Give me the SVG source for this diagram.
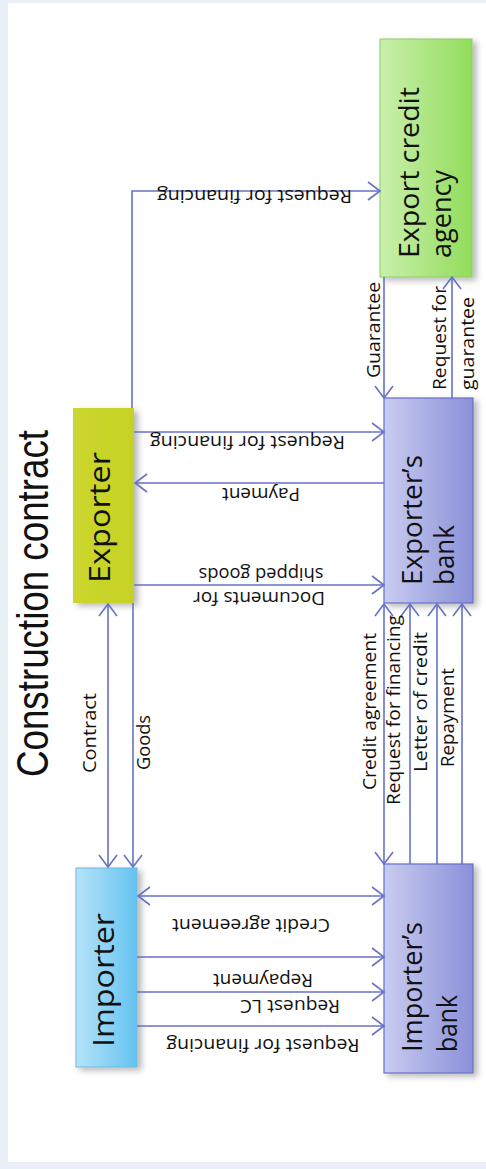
<svg xmlns="http://www.w3.org/2000/svg" width="486" height="1169" viewBox="0 0 486 1169">
<style>
.c{fill:none;stroke:#6672c6;stroke-width:1.6}
.lbl{font-family:"Open Sans","DejaVu Sans",sans-serif;font-size:18px;fill:#111;text-anchor:middle;dominant-baseline:central}
.nl{font-family:"Open Sans","DejaVu Sans",sans-serif;fill:#111;text-anchor:middle;dominant-baseline:central}
.title{font-family:"Liberation Sans",Arial,sans-serif;font-size:44px;fill:#111;text-anchor:middle;dominant-baseline:central}
</style>
<defs>
<marker id="ah" viewBox="0 0 14 20" refX="13" refY="10" markerWidth="14" markerHeight="20" markerUnits="userSpaceOnUse" orient="auto-start-reverse">
<path d="M1,1 L13,10 L1,19" fill="none" stroke="#6672c6" stroke-width="1.6"/>
</marker>
<linearGradient id="gEca" x1="0" y1="0" x2="1" y2="0"><stop offset="0" stop-color="#caf0ac"/><stop offset="1" stop-color="#92dc5c"/></linearGradient>
<linearGradient id="gExp" x1="0" y1="0" x2="1" y2="0"><stop offset="0" stop-color="#ccd62e"/><stop offset="1" stop-color="#c6d224"/></linearGradient>
<linearGradient id="gBank" x1="0" y1="0" x2="1" y2="0"><stop offset="0" stop-color="#c9ccf0"/><stop offset="1" stop-color="#8a90d8"/></linearGradient>
<linearGradient id="gImp" x1="0" y1="0" x2="1" y2="0"><stop offset="0" stop-color="#b6e3f8"/><stop offset="1" stop-color="#64c3f0"/></linearGradient>
<filter id="sh" x="-20%" y="-20%" width="150%" height="150%"><feDropShadow dx="4" dy="3" stdDeviation="3" flood-color="#000" flood-opacity="0.28"/></filter>
</defs>
<rect x="0" y="0" width="486" height="1169" fill="#e9eff7"/>
<rect x="8" y="3" width="478" height="1159" fill="#ffffff"/>
<text class="title" transform="translate(32.5,603.5) rotate(-90)" textLength="347" lengthAdjust="spacingAndGlyphs">Construction contract</text>

<g id="eca">
<rect x="380" y="39" width="92" height="238" fill="url(#gEca)" stroke="#8ccc62" stroke-width="1" filter="url(#sh)"/>
<text class="nl" font-size="28" transform="translate(408,172.5) rotate(-90)" textLength="171" lengthAdjust="spacingAndGlyphs">Export credit</text>
<text class="nl" font-size="28" transform="translate(440,214) rotate(-90)" textLength="88" lengthAdjust="spacingAndGlyphs">agency</text>
</g>
<g id="exporter">
<rect x="73" y="408" width="61" height="195" fill="url(#gExp)" filter="url(#sh)"/>
<text class="nl" font-size="30" transform="translate(98,517.5) rotate(-90)" textLength="131" lengthAdjust="spacingAndGlyphs">Exporter</text>
</g>
<g id="exporters-bank">
<rect x="384" y="398" width="89" height="205" fill="url(#gBank)" stroke="#6670c8" stroke-width="1.2" filter="url(#sh)"/>
<text class="nl" font-size="27" transform="translate(411.5,520) rotate(-90)" textLength="130" lengthAdjust="spacingAndGlyphs">Exporter’s</text>
<text class="nl" font-size="27" transform="translate(443.5,555) rotate(-90)" textLength="60" lengthAdjust="spacingAndGlyphs">bank</text>
</g>
<g id="importer">
<rect x="76" y="868" width="61" height="199" fill="url(#gImp)" stroke="#6ab8e6" stroke-width="1" filter="url(#sh)"/>
<text class="nl" font-size="30" transform="translate(102,980) rotate(-90)" textLength="134" lengthAdjust="spacingAndGlyphs">Importer</text>
</g>
<g id="importers-bank">
<rect x="384" y="864" width="89" height="209" fill="url(#gBank)" stroke="#6670c8" stroke-width="1.2" filter="url(#sh)"/>
<text class="nl" font-size="27" transform="translate(411,987) rotate(-90)" textLength="130" lengthAdjust="spacingAndGlyphs">Importer’s</text>
<text class="nl" font-size="27" transform="translate(446,1023.5) rotate(-90)" textLength="57" lengthAdjust="spacingAndGlyphs">bank</text>
</g>

<g id="connectors">
<path class="c" d="M132,408 V191 H380" marker-end="url(#ah)"/>
<path class="c" d="M134,432 H384" marker-end="url(#ah)"/>
<path class="c" d="M384,483 H135" marker-end="url(#ah)"/>
<path class="c" d="M134,585 H384" marker-end="url(#ah)"/>
<path class="c" d="M384,277 V398" marker-end="url(#ah)"/>
<path class="c" d="M452,398 V277" marker-end="url(#ah)"/>
<path class="c" d="M108,604 V867" marker-start="url(#ah)" marker-end="url(#ah)"/>
<path class="c" d="M133,603 V867" marker-end="url(#ah)"/>
<path class="c" d="M384,604 V864" marker-start="url(#ah)" marker-end="url(#ah)"/>
<path class="c" d="M410,864 V604" marker-end="url(#ah)"/>
<path class="c" d="M437,864 V604" marker-end="url(#ah)"/>
<path class="c" d="M462,864 V604" marker-end="url(#ah)"/>
<path class="c" d="M138,896 H384" marker-start="url(#ah)" marker-end="url(#ah)"/>
<path class="c" d="M137,957 H384" marker-end="url(#ah)"/>
<path class="c" d="M137,992 H384" marker-end="url(#ah)"/>
<path class="c" d="M137,1026 H384" marker-end="url(#ah)"/>

<text class="lbl" transform="translate(254.5,196.5) rotate(180)" textLength="195" lengthAdjust="spacingAndGlyphs">Request for financing</text>
<text class="lbl" transform="translate(247.5,443) rotate(180)" textLength="195" lengthAdjust="spacingAndGlyphs">Request for financing</text>
<text class="lbl" transform="translate(261,495) rotate(180)" textLength="78" lengthAdjust="spacingAndGlyphs">Payment</text>
<text class="lbl" transform="translate(261,575) rotate(180)" textLength="125" lengthAdjust="spacingAndGlyphs">shipped goods</text>
<text class="lbl" transform="translate(259,599) rotate(180)" textLength="132" lengthAdjust="spacingAndGlyphs">Documents for</text>
<text class="lbl" transform="translate(251,926) rotate(180)" textLength="158" lengthAdjust="spacingAndGlyphs">Credit agreement</text>
<text class="lbl" transform="translate(263,981) rotate(180)" textLength="100" lengthAdjust="spacingAndGlyphs">Repayment</text>
<text class="lbl" transform="translate(290,1007) rotate(180)" textLength="100" lengthAdjust="spacingAndGlyphs">Request LC</text>
<text class="lbl" transform="translate(263,1046) rotate(180)" textLength="193" lengthAdjust="spacingAndGlyphs">Request for financing</text>

<text class="lbl" transform="translate(373,330) rotate(-90)" textLength="96" lengthAdjust="spacingAndGlyphs">Guarantee</text>
<text class="lbl" transform="translate(439,338) rotate(-90)" textLength="104" lengthAdjust="spacingAndGlyphs">Request for</text>
<text class="lbl" transform="translate(467,343.5) rotate(-90)" textLength="93" lengthAdjust="spacingAndGlyphs">guarantee</text>
<text class="lbl" transform="translate(89,733) rotate(-90)" textLength="80" lengthAdjust="spacingAndGlyphs">Contract</text>
<text class="lbl" transform="translate(142.5,742.5) rotate(-90)" textLength="55" lengthAdjust="spacingAndGlyphs">Goods</text>
<text class="lbl" transform="translate(369,711.5) rotate(-90)" textLength="157" lengthAdjust="spacingAndGlyphs">Credit agreement</text>
<text class="lbl" transform="translate(393,710) rotate(-90)" textLength="190" lengthAdjust="spacingAndGlyphs">Request for financing</text>
<text class="lbl" transform="translate(420,702) rotate(-90)" textLength="140" lengthAdjust="spacingAndGlyphs">Letter of credit</text>
<text class="lbl" transform="translate(447,717.5) rotate(-90)" textLength="99" lengthAdjust="spacingAndGlyphs">Repayment</text>
</g>
</svg>
